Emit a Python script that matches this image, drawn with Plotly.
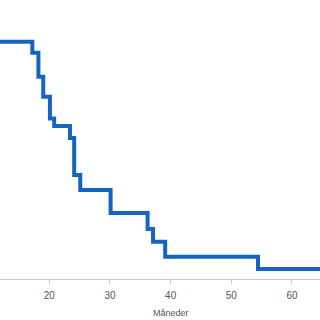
import plotly.graph_objects as go

# Event times (months) and survival levels
event_times = [17.2, 18.2, 19.0, 20.1, 20.8, 23.4, 24.1, 25.1, 30.1, 36.2, 37.1, 39.1, 54.4]
survival = [1.0, 0.954, 0.853, 0.768, 0.677, 0.645, 0.594, 0.438, 0.375, 0.278, 0.211, 0.157, 0.094, 0.042]
start_time = 0
end_time = 66
tick_values = [20, 30, 40, 50, 60]
x_title = "Måneder"

xs = [start_time] + event_times + [end_time]
ys = survival + [survival[-1]]

fig = go.Figure()
fig.add_trace(go.Scatter(
    x=xs, y=ys, mode="lines", line=dict(shape="hv", color="#1565c0", width=4),
    hoverinfo="skip", showlegend=False,
))

fig.update_layout(
    width=320, height=320,
    margin=dict(l=0, r=0, t=0, b=41),
    paper_bgcolor="white", plot_bgcolor="white",
    font=dict(family="Liberation Sans, Arial, sans-serif", color="#555"),
    xaxis=dict(
        range=[11.87, 64.62], showgrid=False, zeroline=False,
        showline=True, linecolor="#c8c8c8", linewidth=1,
        ticks="outside", ticklen=4, tickcolor="#c8c8c8",
        ticklabelstandoff=3,
        tickvals=tick_values, tickfont=dict(size=10, color="#555"),
    ),
    yaxis=dict(range=[0, 1.176], visible=False, showgrid=False, zeroline=False),
    annotations=[dict(
        text=x_title, xref="paper", yref="paper", x=0.534, y=-0.122,
        xanchor="center", yanchor="middle", showarrow=False,
        font=dict(size=9, color="#555"),
    )],
)

fig.write_html("out.html")
